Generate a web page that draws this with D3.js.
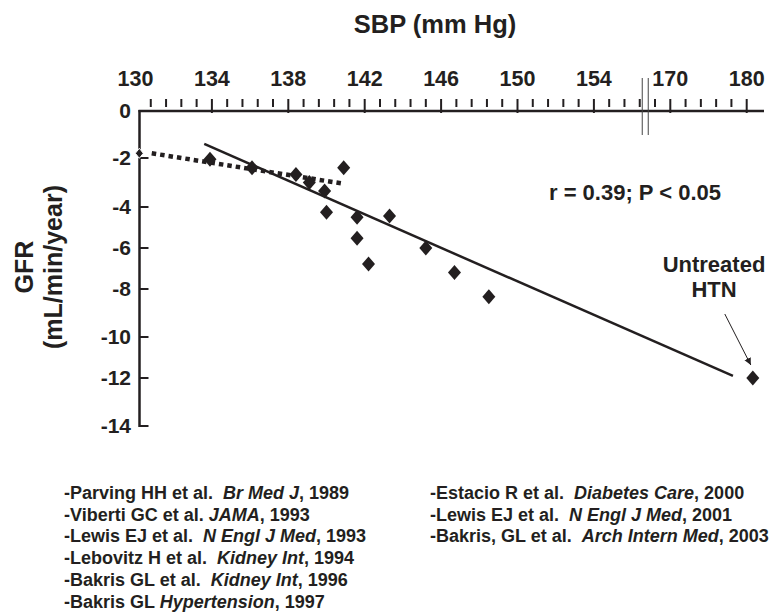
<!DOCTYPE html>
<html><head><meta charset="utf-8">
<script src="https://cdn.jsdelivr.net/npm/d3@7"></script>
<style>
body{margin:0;background:#fff}
text{font-family:"Liberation Sans",Arial,Helvetica,sans-serif;font-weight:bold;fill:#231f20}
</style>
</head><body>
<svg id="chart" width="777" height="613"></svg>
<script>
// ---- data ----
const sbpTicks = [130, 134, 138, 142, 146, 150, 154, 170, 180];
const gfrTicks = [0, -2, -4, -6, -8, -10, -12, -14];
const sbp = [130.2, 133.9, 136.1, 138.4, 139.1, 139.9, 140.0, 140.9, 141.6, 141.6, 142.2, 143.3, 145.2, 146.7, 148.5, 180.8];
const gfr = [-1.8, -2.05, -2.4, -2.67, -3.0, -3.35, -4.26, -2.4, -4.5, -5.53, -6.78, -4.44, -6.0, -7.2, -8.32, -12.0];
const solidFitSbp = [133.6, 178.2];
const solidFitGfr = [-1.4, -11.9];
const dottedFitSbp = [130.85, 140.9];
const dottedFitGfr = [-1.8, -3.05];
const xTitle = "SBP (mm Hg)";
const yTitle = ["GFR", "(mL/min/year)"];
const statText = "r = 0.39; P < 0.05";
const outlierLabel = ["Untreated", "HTN"];
const refsLeft = [
  ["-Parving HH et al.  ", "Br Med J", ", 1989"],
  ["-Viberti GC et al. ", "JAMA", ", 1993"],
  ["-Lewis EJ et al.  ", "N Engl J Med", ", 1993"],
  ["-Lebovitz H et al.  ", "Kidney Int", ", 1994"],
  ["-Bakris GL et al.  ", "Kidney Int", ", 1996"],
  ["-Bakris GL ", "Hypertension", ", 1997"]
];
const refsRight = [
  ["-Estacio R et al.  ", "Diabetes Care", ", 2000"],
  ["-Lewis EJ et al.  ", "N Engl J Med", ", 2001"],
  ["-Bakris, GL et al.  ", "Arch Intern Med", ", 2003"]
];

// ---- layout ----
const svg = d3.select("#chart");
const X0 = 135.5, STEP = 76.4;
const x = d3.scaleLinear().domain(sbpTicks).range(sbpTicks.map((d, i) => X0 + i * STEP));
const y = d3.scaleLinear().domain(gfrTicks).range([111, 158, 207, 248, 289, 337, 378, 426]);
const axisX = 139.5, axisY = 111, axisRight = 764;
const ink = "#231f20";

// title
svg.append("text").attr("x", 435).attr("y", 33).attr("text-anchor", "middle")
  .style("font-size", "25.5px").text(xTitle);

// top axis
svg.append("line").attr("x1", axisX - 1).attr("x2", axisRight).attr("y1", axisY).attr("y2", axisY)
  .attr("stroke", ink).attr("stroke-width", 2.5);
const minor = [];
for (let i = 0; i < sbpTicks.length - 1; i++) {
  for (let k = 1; k <= 4; k++) minor.push(sbpTicks[i] + (sbpTicks[i + 1] - sbpTicks[i]) * k / 5);
}
svg.append("g").selectAll("line").data(minor).join("line")
  .attr("x1", d => x(d)).attr("x2", d => x(d)).attr("y1", 99).attr("y2", 107)
  .attr("stroke", ink).attr("stroke-width", 2);
svg.append("g").selectAll("line").data(sbpTicks.slice(1)).join("line")
  .attr("x1", d => x(d)).attr("x2", d => x(d)).attr("y1", 99).attr("y2", axisY + 2)
  .attr("stroke", ink).attr("stroke-width", 2);
svg.append("g").selectAll("text").data(sbpTicks).join("text")
  .attr("x", d => x(d)).attr("y", 86).attr("text-anchor", "middle")
  .style("font-size", "21.5px").text(d => d);
// axis break
const bx = x(minor[minor.length - 6]);
[2.5, 8.5].forEach(o => svg.append("line").attr("x1", bx + o).attr("x2", bx + o)
  .attr("y1", 78).attr("y2", 135).attr("stroke", "#444").attr("stroke-width", 1));

// left axis
svg.append("line").attr("x1", axisX).attr("x2", axisX).attr("y1", axisY - 1).attr("y2", y(-14) + 1)
  .attr("stroke", ink).attr("stroke-width", 2.5);
svg.append("g").selectAll("line").data(gfrTicks.slice(1)).join("line")
  .attr("x1", axisX).attr("x2", axisX + 9).attr("y1", d => y(d)).attr("y2", d => y(d))
  .attr("stroke", ink).attr("stroke-width", 2);
svg.append("g").selectAll("text").data(gfrTicks).join("text")
  .attr("x", 131).attr("y", d => y(d) + 7).attr("text-anchor", "end")
  .style("font-size", "21px").text(d => d === 0 ? "0" : "-" + Math.abs(d));

// y title
svg.append("text").attr("transform", "translate(33,267) rotate(-90)").attr("text-anchor", "middle")
  .style("font-size", "25px").text(yTitle[0]);
svg.append("text").attr("transform", "translate(62,267) rotate(-90)").attr("text-anchor", "middle")
  .style("font-size", "25px").text(yTitle[1]);

// fit lines
const line = d3.line().x(d => x(d[0])).y(d => y(d[1]));
svg.append("path").attr("d", line(d3.zip(solidFitSbp, solidFitGfr)))
  .attr("fill", "none").attr("stroke", ink).attr("stroke-width", 2.5);
svg.append("path").attr("d", line(d3.zip(dottedFitSbp, dottedFitGfr)))
  .attr("fill", "none").attr("stroke", ink).attr("stroke-width", 4.5).attr("stroke-dasharray", "4.5,4");

// points
const pts = d3.zip(sbp, gfr);
svg.append("g").selectAll("path").data(pts).join("path")
  .attr("transform", d => `translate(${x(d[0])},${y(d[1])})`)
  .attr("d", (d, i) => { const w = i === 0 ? 4 : 6.5, h = i === 0 ? 5 : 7.5; return `M0,${-h}L${w},0L0,${h}L${-w},0Z`; })
  .attr("fill", ink).attr("stroke", (d, i) => i === 0 ? "#fff" : "none").attr("stroke-width", 1);

// stat text
svg.append("text").attr("x", 635).attr("y", 200).attr("text-anchor", "middle")
  .style("font-size", "22px").text(statText);

// outlier label + arrow
svg.append("text").attr("x", 714).attr("y", 272).attr("text-anchor", "middle")
  .style("font-size", "22px").text(outlierLabel[0]);
svg.append("text").attr("x", 714).attr("y", 297).attr("text-anchor", "middle")
  .style("font-size", "22px").text(outlierLabel[1]);
svg.append("defs").append("marker").attr("id", "ah").attr("viewBox", "0 0 10 10")
  .attr("refX", 10).attr("refY", 5).attr("markerWidth", 7).attr("markerHeight", 8)
  .attr("markerUnits", "userSpaceOnUse").attr("orient", "auto")
  .append("path").attr("d", "M0,0L10,5L0,10Z").attr("fill", ink);
const ox = x(sbp[sbp.length - 1]), oy = y(gfr[gfr.length - 1]);
svg.append("line").attr("x1", ox - 28).attr("y1", oy - 64).attr("x2", ox - 2).attr("y2", oy - 13)
  .attr("stroke", ink).attr("stroke-width", 1).attr("marker-end", "url(#ah)");

// references
function refBlock(list, x0, y0) {
  const g = svg.append("g");
  list.forEach((r, i) => {
    const t = g.append("text").attr("x", x0).attr("y", y0 + i * 21.7).style("font-size", "18px")
      .attr("xml:space", "preserve");
    t.append("tspan").text(r[0]);
    t.append("tspan").style("font-style", "italic").text(r[1]);
    t.append("tspan").text(r[2]);
  });
}
refBlock(refsLeft, 64, 499);
refBlock(refsRight, 430, 499);
</script>
</body></html>
